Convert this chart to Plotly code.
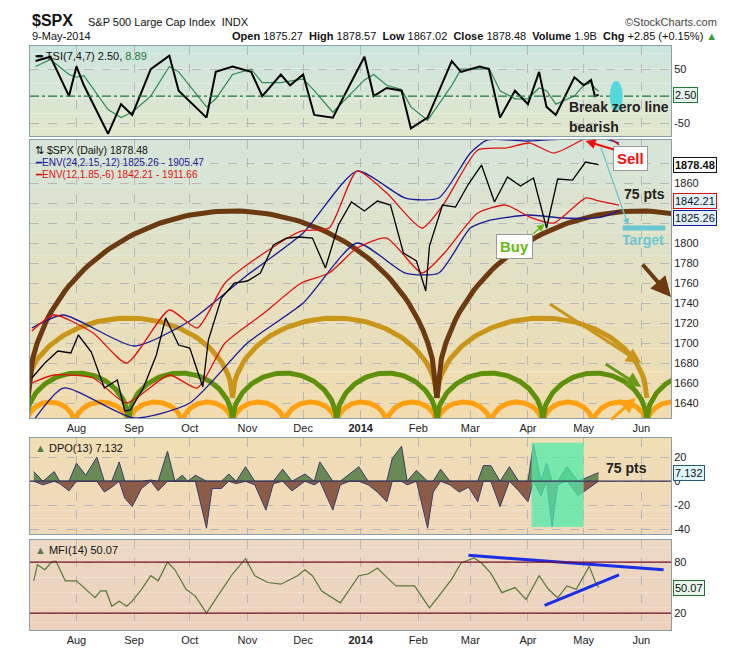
import numpy as np
import pandas as pd
import plotly.graph_objects as go

# ---------------- data ----------------
price_dates = ["2013-07-08","2013-07-15","2013-07-22","2013-07-29","2013-08-02","2013-08-09","2013-08-16","2013-08-23","2013-08-27","2013-08-30",
               "2013-09-06","2013-09-13","2013-09-18","2013-09-25","2013-10-01","2013-10-08","2013-10-11","2013-10-18","2013-10-25","2013-11-01",
               "2013-11-08","2013-11-15","2013-11-22","2013-11-29","2013-12-06","2013-12-13","2013-12-20","2013-12-27","2014-01-03","2014-01-10",
               "2014-01-17","2014-01-24","2014-01-31","2014-02-05","2014-02-07","2014-02-14","2014-02-21","2014-02-28","2014-03-07","2014-03-14",
               "2014-03-21","2014-03-28","2014-04-04","2014-04-11","2014-04-17","2014-04-25","2014-05-02","2014-05-09"]
price_close = [1665,1680,1692,1690,1708,1691,1655,1663,1632,1633,
               1655,1688,1725,1698,1695,1656,1703,1745,1760,1762,
               1770,1798,1805,1806,1805,1775,1818,1841,1832,1842,
               1838,1790,1782,1752,1797,1838,1836,1859,1878,1841,
               1866,1857,1865,1815,1864,1863,1881,1878.48]

env24_dates = ["2013-07-08","2013-07-25","2013-09-01","2013-10-01","2013-11-01","2013-12-01","2013-12-30","2014-01-25","2014-02-12","2014-03-01","2014-03-10","2014-04-01","2014-04-20","2014-05-09","2014-05-20"]
env24_upper = [1715,1728,1697,1722,1768,1810,1872,1845,1845,1890,1903,1902,1904,1905.5,1900]
env24_lower = [1620,1655,1625,1640,1700,1740,1800,1770,1770,1815,1822,1828,1825,1825.3,1832]

env12_dates = ["2013-07-08","2013-07-20","2013-08-10","2013-08-28","2013-09-20","2013-10-05","2013-10-20","2013-11-10","2013-11-30","2013-12-15","2013-12-30","2014-01-15","2014-02-03","2014-02-15","2014-03-05","2014-03-20","2014-04-02","2014-04-15","2014-05-02","2014-05-09","2014-05-20"]
env12_upper = [1712,1728,1710,1680,1733,1715,1760,1790,1812,1815,1872,1850,1815,1840,1893,1895,1900,1890,1905,1911.7,1898]
env12_lower = [1660,1668,1665,1640,1668,1655,1700,1730,1760,1770,1795,1805,1770,1790,1830,1838,1826,1820,1845,1842.2,1838]

tsi_dates = ["2013-07-10","2013-07-18","2013-07-28","2013-08-01","2013-08-05","2013-08-18","2013-08-25","2013-08-31","2013-09-10","2013-09-20",
             "2013-09-25","2013-10-10","2013-10-15","2013-10-24","2013-11-03","2013-11-09","2013-11-19","2013-11-24","2013-12-01","2013-12-07",
             "2013-12-17","2014-01-03","2014-01-08","2014-01-15","2014-01-23","2014-01-28","2014-02-06","2014-02-19","2014-02-24","2014-03-06",
             "2014-03-11","2014-03-17","2014-03-25","2014-04-01","2014-04-07","2014-04-11","2014-04-16","2014-04-26","2014-05-01","2014-05-05",
             "2014-05-07","2014-05-09"]
tsi_values = [65,73,0,55,20,-70,-15,-35,50,75,
              10,-40,45,55,45,0,40,20,40,-35,
              -40,73,0,15,10,-60,-40,65,45,55,
              50,-40,10,-15,45,-20,-35,35,20,30,
              0,2.5]
tsi_signal = [55,68,40,35,38,-25,-40,-30,0,55,
              45,-20,-5,40,50,25,25,28,32,10,
              -30,30,40,20,12,-20,-45,20,50,50,
              52,10,-5,-5,15,10,-15,0,20,25,
              15,8.89]

dpo_dates = ["2013-07-09","2013-07-14","2013-07-20","2013-07-23","2013-07-28","2013-08-01","2013-08-06","2013-08-12","2013-08-16","2013-08-20",
             "2013-08-24","2013-08-27","2013-08-31","2013-09-05","2013-09-10","2013-09-14","2013-09-19","2013-09-23","2013-09-27","2013-09-30",
             "2013-10-04","2013-10-10","2013-10-13","2013-10-18","2013-10-22","2013-10-26","2013-10-31","2013-11-05","2013-11-11","2013-11-15",
             "2013-11-20","2013-11-25","2013-12-02","2013-12-07","2013-12-10","2013-12-17","2013-12-21","2013-12-26","2013-12-31","2014-01-05",
             "2014-01-10","2014-01-15","2014-01-18","2014-01-23","2014-01-26","2014-01-31","2014-02-06","2014-02-09","2014-02-13","2014-02-18",
             "2014-02-23","2014-02-28","2014-03-05","2014-03-08","2014-03-12","2014-03-17","2014-03-22","2014-03-27","2014-04-01","2014-04-04",
             "2014-04-08","2014-04-11","2014-04-14","2014-04-17","2014-04-22","2014-04-28","2014-05-09"]
dpo_values = [8,-3,8,-2,-8,15,5,20,-9,-5,
              16,-14,-21,-6,1,-8,25,0,5,0,
              5,-39,-6,-6,6,-2,12,-3,-24,-2,
              10,-8,6,-3,16,-24,-3,6,12,-3,
              -9,-17,19,29,-3,9,-39,-9,10,-3,
              -9,-5,-17,13,13,-21,12,-8,-17,31,
              -12,15,-38,-3,12,-12,7.132]

mfi_dates = ["2013-07-09","2013-07-11","2013-07-15","2013-07-19","2013-07-21","2013-07-26","2013-08-01","2013-08-06","2013-08-11","2013-08-14",
             "2013-08-17","2013-08-20","2013-08-24","2013-08-28","2013-08-31","2013-09-05","2013-09-10","2013-09-14","2013-09-19","2013-09-23",
             "2013-09-29","2013-10-04","2013-10-10","2013-10-16","2013-10-24","2013-10-31","2013-11-05","2013-11-12","2013-11-19","2013-11-28",
             "2013-12-02","2013-12-06","2013-12-11","2013-12-21","2013-12-31","2014-01-05","2014-01-10","2014-01-15","2014-01-20","2014-01-30",
             "2014-02-07","2014-02-12","2014-02-19","2014-02-24","2014-03-03","2014-03-07","2014-03-12","2014-03-18","2014-03-25","2014-03-31",
             "2014-04-07","2014-04-12","2014-04-17","2014-04-22","2014-04-27","2014-05-04","2014-05-07","2014-05-09"]
mfi_values = [58,77,71,81,81,58,58,48,38,46,
              46,28,34,28,34,48,64,58,80,71,
              48,40,20,40,66,84,64,56,54,64,
              71,64,46,32,64,66,73,62,52,52,
              26,40,60,79,85,79,67,44,50,36,
              64,48,38,52,48,75,58,50.07]

brown_lows = ["2013-07-06","2014-02-11","2014-09-17"]
gold_lows = ["2013-07-04","2013-10-24","2014-02-11","2014-06-04"]
green_lows = ["2013-07-05","2013-08-29","2013-10-24","2013-12-19","2014-02-11","2014-04-09","2014-06-04","2014-07-30"]
orange_lows = ["2013-07-05","2013-07-31","2013-08-29","2013-09-27","2013-10-24","2013-11-21","2013-12-19","2014-01-15","2014-02-11",
               "2014-03-12","2014-04-09","2014-05-06","2014-06-04","2014-07-01"]

month_ticks = ["2013-08-01","2013-09-01","2013-10-01","2013-11-01","2013-12-01","2014-01-01","2014-02-01","2014-03-01","2014-04-01","2014-05-01","2014-06-01"]
month_labels = ["Aug","Sep","Oct","Nov","Dec","<b>2014</b>","Feb","Mar","Apr","May","Jun"]
price_ticks = [1640,1660,1680,1700,1720,1740,1760,1780,1800,1820,1840,1860,1880]
price_tick_labels = ["1640","1660","1680","1700","1720","1740","1760","1780","1800","","","1860",""]

# ---------------- figure ----------------
XR = ["2013-07-07", "2014-06-17"]
fig = go.Figure()
FONT = "Liberation Sans, Arial, sans-serif"

def arc_trace(lows, base, peak, color, width):
    xs, ys = [], []
    for a, b in zip(lows[:-1], lows[1:]):
        ta, tb = pd.Timestamp(a), pd.Timestamp(b)
        u = np.linspace(-1, 1, 90)
        t = ta + (tb - ta) * (u + 1) / 2
        y = base + (peak - base) * np.sqrt(np.clip(1 - u ** 2, 0, 1))
        xs += list(t) + [None]
        ys += list(y) + [None]
    return go.Scatter(x=xs, y=ys, mode="lines", line=dict(color=color, width=width),
                      xaxis="x2", yaxis="y2", hoverinfo="skip", showlegend=False)

fig.add_trace(go.Scatter(x=tsi_dates, y=tsi_signal, mode="lines", line=dict(color="#2e8b57", width=1.2), xaxis="x", yaxis="y"))
fig.add_trace(go.Scatter(x=tsi_dates, y=tsi_values, mode="lines", line=dict(color="black", width=2), xaxis="x", yaxis="y"))

fig.add_trace(arc_trace(orange_lows, 1618, 1641, "#ffa010", 5))
fig.add_trace(arc_trace(green_lows, 1622, 1670, "#5f900c", 5))
fig.add_trace(arc_trace(gold_lows, 1645, 1725, "#c9961a", 5))
fig.add_trace(arc_trace(brown_lows, 1645, 1832, "#6b3a10", 5))
for d, v, c in [(env24_dates, env24_upper, "#1a1a9a"), (env24_dates, env24_lower, "#1a1a9a"),
                (env12_dates, env12_upper, "#e01010"), (env12_dates, env12_lower, "#e01010")]:
    fig.add_trace(go.Scatter(x=d, y=v, mode="lines", line=dict(color=c, width=1.3, shape="spline", smoothing=0.6), xaxis="x2", yaxis="y2"))
fig.add_trace(go.Scatter(x=price_dates, y=price_close, mode="lines", line=dict(color="black", width=1.3), xaxis="x2", yaxis="y2"))

dpo = np.array(dpo_values)
fig.add_trace(go.Scatter(x=dpo_dates, y=np.maximum(dpo, 0), mode="lines", fill="tozeroy", fillcolor="#6a8a55",
                         line=dict(color="#3a3a70", width=1), xaxis="x3", yaxis="y3"))
fig.add_trace(go.Scatter(x=dpo_dates, y=np.minimum(dpo, 0), mode="lines", fill="tozeroy", fillcolor="#8c5c48",
                         line=dict(color="#3a3a70", width=1), xaxis="x3", yaxis="y3"))

fig.add_trace(go.Scatter(x=mfi_dates, y=mfi_values, mode="lines", line=dict(color="#557a3a", width=1.2), xaxis="x4", yaxis="y4"))
fig.add_trace(go.Scatter(x=["2014-02-28", "2014-06-13"], y=[88, 71], mode="lines", line=dict(color="#1a2ee8", width=3), xaxis="x4", yaxis="y4"))
fig.add_trace(go.Scatter(x=["2014-04-10", "2014-05-20"], y=[29, 65], mode="lines", line=dict(color="#1a2ee8", width=3), xaxis="x4", yaxis="y4"))

D_TSI, D_MAIN, D_DPO, D_MFI = [0.846, 1.0], [0.363, 0.839], [0.164, 0.329], [0.0, 0.154]
axfont = dict(family=FONT, size=11, color="#222")
def xax(anchor, show):
    return dict(range=XR, type="date", anchor=anchor, domain=[0, 1],
                tickvals=month_ticks, ticktext=month_labels, showticklabels=show, ticks="",
                showgrid=True, gridcolor="#b8b8b8", griddash="dash", gridwidth=0.6,
                showline=True, linecolor="#8aa0a8", mirror=True, zeroline=False, tickfont=axfont)
def yax(dom, rng, tv, tt=None):
    return dict(domain=dom, range=rng, side="right", tickvals=tv, ticktext=tt or [str(v) for v in tv],
                showgrid=True, gridcolor="#b8b8b8", griddash="dash", gridwidth=0.6, ticks="",
                showline=True, linecolor="#8aa0a8", mirror=True, zeroline=False, tickfont=axfont)

fig.update_layout(
    width=730, height=660, margin=dict(l=22, r=67, t=38, b=38, autoexpand=False),
    paper_bgcolor="white", plot_bgcolor="rgba(0,0,0,0)", showlegend=False, font=dict(family=FONT),
    xaxis=xax("y", False), xaxis2=xax("y2", True), xaxis3=xax("y3", False), xaxis4=xax("y4", True),
    yaxis=yax(D_TSI, [-74, 93], [50, -50]),
    yaxis2=yax(D_MAIN, [1625, 1903], price_ticks, price_tick_labels),
    yaxis3=yax(D_DPO, [-44, 36], [20, 0, -20, -40]),
    yaxis4=yax(D_MFI, [0, 106], [80, 20]),
)

shapes = []
def bands(yref, c_top, c_bot, n=12):
    ct = np.array([int(c_top[i:i+2], 16) for i in (1, 3, 5)])
    cb = np.array([int(c_bot[i:i+2], 16) for i in (1, 3, 5)])
    for i in range(n):
        f = (i + 0.5) / n
        c = (ct * (1 - f) + cb * f).astype(int)
        shapes.append(dict(type="rect", xref="paper", yref=yref + " domain", x0=0, x1=1,
                           y0=1 - (i + 1) / n, y1=1 - i / n, fillcolor="rgb(%d,%d,%d)" % tuple(c),
                           line=dict(width=0), layer="below"))
bands("y", "#cde5e0", "#e2e8cc")
bands("y2", "#d5e6da", "#f2dcae")
bands("y3", "#f0dfb4", "#f0d8bc")
bands("y4", "#ecd9c4", "#ecd2bc")
shapes.append(dict(type="line", xref="paper", yref="y", x0=0, x1=1, y0=0, y1=0, line=dict(color="#1e7a3a", width=1.3, dash="dashdot")))
shapes.append(dict(type="circle", xref="x", yref="y", x0="2014-05-15", x1="2014-05-22", y0=-28, y1=28, fillcolor="#55d8dc", line=dict(width=0)))
shapes.append(dict(type="rect", xref="x3", yref="y3", x0="2014-04-03", x1="2014-05-01", y0=-38, y1=32, fillcolor="rgba(80,235,170,0.75)", line=dict(width=0)))
shapes.append(dict(type="line", xref="paper", yref="y3", x0=0, x1=1, y0=0, y1=0, line=dict(color="#333355", width=1.3)))
for v in (80, 20):
    shapes.append(dict(type="line", xref="paper", yref="y4", x0=0, x1=1, y0=v, y1=v, line=dict(color="#7a0f2a", width=1.3)))
shapes.append(dict(type="line", xref="x2", yref="y2", x0="2014-05-22", x1="2014-06-14", y0=1815, y1=1815, line=dict(color="#6cc8d0", width=5)))
fig.update_layout(shapes=shapes)

ann = []
def txt(x, y, s, xref="paper", yref="paper", size=11, color="#111", xa="left", ya="middle", **kw):
    ann.append(dict(x=x, y=y, xref=xref, yref=yref, text=s, showarrow=False, xanchor=xa, yanchor=ya,
                    font=dict(family=FONT, size=size, color=color), **kw))
txt(0.0, 1.043, "<b>$SPX</b>", size=16)
txt(0.088, 1.041, "S&P 500 Large Cap Index  INDX", size=11)
txt(1.075, 1.041, "©StockCharts.com", size=11, xa="right", color="#444")
txt(0.0, 1.017, "9-May-2014", size=11)
txt(1.075, 1.017, "<b>Open</b> 1875.27  <b>High</b> 1878.57  <b>Low</b> 1867.02  <b>Close</b> 1878.48  <b>Volume</b> 1.9B  <b>Chg</b> +2.85 (+0.15%) <span style='color:#3a9a3a'>▲</span>", size=11, xa="right")
txt(0.005, 0.997, "<b>━</b> TSI(7,4,7) 2.50, <span style='color:#1e7a3a'>8.89</span>", size=11, ya="top")
txt(0.005, 0.836, "⇅ $SPX (Daily) 1878.48", size=10.5, ya="top")
txt(0.005, 0.814, "<span style='color:#1a1a9a'>━ENV(24,2.15,-12) 1825.26 - 1905.47</span>", size=10, ya="top")
txt(0.005, 0.792, "<span style='color:#e01010'>━ENV(12,1.85,-6) 1842.21 - 1911.66</span>", size=10, ya="top")
txt(0.005, 0.326, "<span style='color:#5a7a4a'>▲</span> DPO(13) 7.132", size=11, ya="top")
txt(0.005, 0.150, "<span style='color:#5a7a4a'>▲</span> MFI(14) 50.07", size=11, ya="top")
def tag(y, yref, s, border, bg="#ffffff", bold=False):
    ann.append(dict(x=1.003, y=y, xref="paper", yref=yref, text=("<b>%s</b>" % s) if bold else s, showarrow=False,
                    xanchor="left", yanchor="middle", bgcolor=bg, bordercolor=border, borderwidth=1, borderpad=1,
                    font=dict(family=FONT, size=11, color="#111")))
tag(2.5, "y", "2.50", "#1e7a3a", "#e8f4ee")
tag(1905.47, "y2", "1905.47", "#1a1a9a", "#e0f0ff")
tag(1878.48, "y2", "1878.48", "#111", "#ffffff", bold=True)
tag(1842.21, "y2", "1842.21", "#e01010", "#e0f0ff")
tag(1825.26, "y2", "1825.26", "#1a1a9a", "#e0f0ff")
tag(7.132, "y3", "7.132", "#2a5a7a", "#e0f6ff")
tag(50.07, "y4", "50.07", "#2a6a3a", "#e6f6ea")
txt("2014-04-22", -20, "<b>Break zero line</b>", xref="x", yref="y", size=14, color="#222")
txt("2014-04-22", -58, "<b>bearish</b>", xref="x", yref="y", size=14, color="#222")
txt("2014-06-03", 1849, "<b>75 pts</b>", xref="x2", yref="y2", size=14, xa="center", color="#222")
txt("2014-06-02", 1803, "<b>Target</b>", xref="x2", yref="y2", size=14, xa="center", color="#6cc8d0")
txt("2014-05-26", 1885, "<b>Sell</b>", xref="x2", yref="y2", size=15, xa="center", color="#ee1010",
    bgcolor="white", bordercolor="#999", borderwidth=1, borderpad=3)
txt("2014-03-25", 1797, "<b>Buy</b>", xref="x2", yref="y2", size=15, xa="center", color="#66bb10",
    bgcolor="white", bordercolor="#999", borderwidth=1, borderpad=3)
txt("2014-05-12", 11, "<b>75 pts</b>", xref="x3", yref="y3", size=14, color="#222")

def arrow(x0, y0, x1, y1, color, w, ref="2"):
    ann.append(dict(x=x1, y=y1, ax=x0, ay=y0, xref="x" + ref, yref="y" + ref, axref="x" + ref, ayref="y" + ref,
                    showarrow=True, arrowhead=2, arrowsize=1, arrowwidth=w, arrowcolor=color, text=""))
arrow("2014-05-18", 1893, "2014-05-02", 1902, "#ee1010", 2)
arrow("2014-05-10", 1897, "2014-05-25", 1818, "#6cc8d0", 1.3)
arrow("2014-04-03", 1808, "2014-04-10", 1819, "#66bb10", 1.5)
arrow("2014-06-01", 1780, "2014-06-17", 1746, "#6b3a10", 4)
arrow("2014-04-12", 1740, "2014-06-01", 1680, "#c9961a", 3)
arrow("2014-05-12", 1680, "2014-06-01", 1656, "#6a9a1a", 3)
arrow("2014-05-15", 1622, "2014-05-29", 1645, "#ffa010", 3)
fig.update_layout(annotations=ann)

fig.write_html("out.html")
